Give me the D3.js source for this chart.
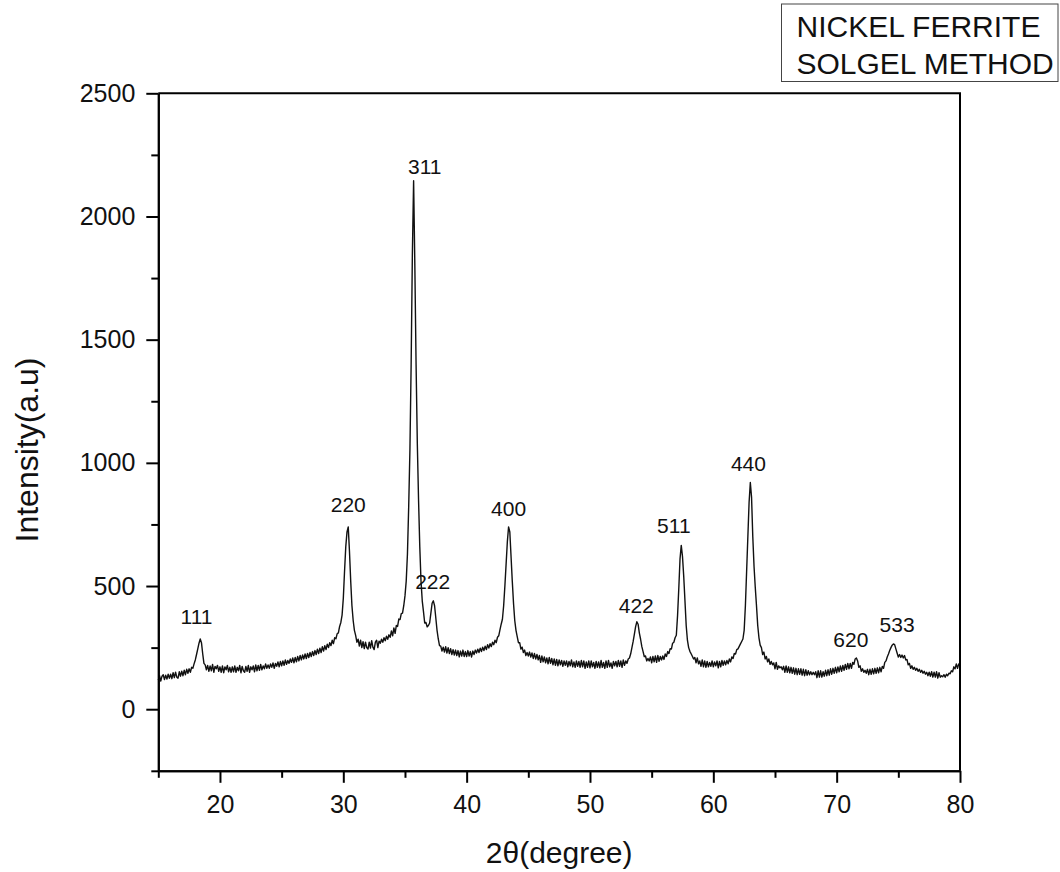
<!DOCTYPE html>
<html lang="en">
  <head>
    <meta charset="UTF-8" />
    <title>nickel ferrite xrd</title>
    <script src="https://cdn.jsdelivr.net/npm/d3@7/dist/d3.min.js"></script>
    <style>
      body { margin: 0; background: #fff; }
    </style>
  </head>
  <body>
    <div id="wrapper"></div>
    <script>
      // scan: first angle, step, and counts (one row per degree)
      const angleStart = 15;
      const angleStep = 0.1;
      const counts = [
        118,136,114,134,140,120,138,122,142,126,
        142,124,148,128,150,130,126,152,134,154,
        136,158,140,162,146,164,150,170,166,184,
        200,222,245,268,285,270,225,186,180,160,
        178,154,176,156,182,150,174,164,178,154,
        172,150,176,148,172,160,178,152,170,150,
        172,152,176,150,170,156,178,148,174,156,
        150,174,154,178,150,172,160,176,152,180,
        156,178,158,182,160,176,164,184,166,180,
        166,184,170,188,166,186,174,192,172,194,
        176,196,178,200,182,198,186,204,190,208,
        188,210,192,214,196,218,200,220,204,224,
        206,226,210,230,214,234,218,238,222,244,
        226,248,230,254,236,258,242,264,250,270,
        258,280,266,290,286,306,310,336,352,382,
        450,560,660,720,740,640,520,420,360,320,
        300,272,284,256,280,250,274,246,272,250,
        244,272,248,278,252,242,272,280,250,276,
        268,284,272,290,278,296,284,302,292,318,
        298,330,308,340,336,366,364,388,390,420,
        460,520,630,820,1050,1400,1850,2145,1800,1400,
        1080,850,660,520,440,396,350,352,334,340,
        350,390,430,440,420,370,320,285,258,256,
        236,252,232,254,228,250,226,246,222,242,
        220,240,218,238,212,236,216,240,214,234,
        214,238,216,234,212,236,222,240,228,244,
        230,248,234,252,238,256,242,262,248,266,
        254,272,262,280,270,292,298,322,345,365,
        420,500,590,680,740,720,620,520,430,360,
        320,295,270,270,244,252,230,240,218,230,
        216,232,212,228,206,226,204,222,200,218,
        190,216,192,212,188,208,184,210,186,206,
        180,204,178,202,176,200,180,198,174,196,
        178,196,172,194,176,200,172,192,170,196,
        174,194,170,198,172,196,166,192,170,196,
        168,196,172,190,166,194,170,192,168,198,
        170,190,166,196,170,198,172,188,166,194,
        176,194,172,198,174,196,170,200,178,196,
        186,204,208,225,250,275,305,335,355,345,
        310,285,255,235,214,216,196,206,196,212,
        188,214,192,216,190,218,194,214,200,216,
        202,224,214,234,226,246,244,268,272,290,
        300,380,490,610,665,620,540,440,340,280,
        250,235,225,215,204,210,188,208,184,196,
        174,200,172,196,170,194,172,190,174,196,
        172,192,176,196,168,194,172,198,178,196,
        180,198,184,204,192,212,206,226,224,242,
        245,255,265,275,285,320,420,560,700,840,
        920,860,700,580,495,420,340,290,260,250,
        222,232,204,214,192,204,182,194,180,188,
        164,190,162,176,168,172,160,174,150,176,
        150,172,148,170,146,168,142,166,140,164,
        142,164,138,162,136,160,138,156,140,152,
        140,150,140,152,128,156,130,156,130,152,
        134,158,136,160,138,164,142,166,146,170,
        148,172,152,176,154,178,158,182,162,186,
        164,186,166,190,182,204,208,196,170,176,
        154,164,150,158,146,162,140,162,142,164,
        144,166,146,168,148,170,152,174,166,190,
        196,212,224,238,250,260,265,262,245,228,
        212,222,210,220,208,218,200,202,180,186,
        166,176,162,170,158,166,154,162,150,158,
        146,154,142,150,136,150,134,152,130,150,
        130,152,126,148,130,136,132,140,130,142,
        136,146,144,156,152,172,164,184,166,184,
        175
      ];

      // peak labels (hkl) and where they sit, in data units
      const hklLabels = ["111", "220", "311", "222", "400", "422", "511", "440", "620", "533"];
      const labelAngles = [18.1, 30.4, 36.6, 37.25, 43.4, 53.75, 56.8, 62.85, 71.15, 74.9];
      const labelCounts = [346, 802, 2172, 487, 785, 390, 714, 968, 252, 312];

      const xTicks = [20, 30, 40, 50, 60, 70, 80];
      const xMinorTicks = [15, 25, 35, 45, 55, 65, 75];
      const yTicks = [0, 500, 1000, 1500, 2000, 2500];
      const yMinorTicks = [-250, 250, 750, 1250, 1750, 2250];

      const titleLines = ["NICKEL FERRITE", "SOLGEL METHOD"];

      const dimensions = {
        width: 1060,
        height: 872,
        margin: { left: 158.3, right: 100, top: 93.3, bottom: 101.2 },
      };
      dimensions.boundedWidth =
        dimensions.width - dimensions.margin.left - dimensions.margin.right;
      dimensions.boundedHeight =
        dimensions.height - dimensions.margin.top - dimensions.margin.bottom;

      const font = "'Liberation Sans', Arial, sans-serif";

      const dataset = counts.map((c, i) => ({
        angle: angleStart + i * angleStep,
        count: c,
      }));

      const svg = d3
        .select("#wrapper")
        .append("svg")
        .attr("width", dimensions.width)
        .attr("height", dimensions.height)
        .style("font-family", font);

      const bounds = svg
        .append("g")
        .attr(
          "transform",
          `translate(${dimensions.margin.left}, ${dimensions.margin.top})`
        );

      const xScale = d3
        .scaleLinear()
        .domain([15, 80])
        .range([0, dimensions.boundedWidth]);
      const yScale = d3
        .scaleLinear()
        .domain([-250, 2500])
        .range([dimensions.boundedHeight, 0]);

      // pattern
      const line = d3
        .line()
        .x((d) => xScale(d.angle))
        .y((d) => yScale(d.count));
      bounds
        .append("path")
        .datum(dataset)
        .attr("d", line)
        .attr("fill", "none")
        .attr("stroke", "#111")
        .attr("stroke-width", 1.4)
        .attr("stroke-linejoin", "round");

      // axes
      const styleAxis = (g) => {
        g.selectAll("path, line").attr("stroke", "#000").attr("stroke-width", 2);
        g.selectAll("text")
          .attr("fill", "#111")
          .style("font-size", "25px")
          .style("font-family", font);
      };

      bounds
        .append("g")
        .attr("transform", `translate(0, ${dimensions.boundedHeight})`)
        .call(
          d3.axisBottom(xScale).tickValues(xTicks).tickSize(12).tickSizeOuter(0).tickPadding(12)
        )
        .call(styleAxis);
      bounds
        .append("g")
        .attr("transform", `translate(0, ${dimensions.boundedHeight})`)
        .call(
          d3.axisBottom(xScale).tickValues(xMinorTicks).tickSize(7).tickSizeOuter(0).tickFormat("")
        )
        .call(styleAxis);

      bounds
        .append("g")
        .call(
          d3.axisLeft(yScale).tickValues(yTicks).tickSize(12).tickSizeOuter(0)
            .tickPadding(11).tickFormat(d3.format("d"))
        )
        .call(styleAxis);
      bounds
        .append("g")
        .call(
          d3.axisLeft(yScale).tickValues(yMinorTicks).tickSize(7).tickSizeOuter(0).tickFormat("")
        )
        .call(styleAxis);

      // top and right frame
      bounds
        .append("path")
        .attr(
          "d",
          `M0,0H${dimensions.boundedWidth}V${dimensions.boundedHeight}`
        )
        .attr("fill", "none")
        .attr("stroke", "#000")
        .attr("stroke-width", 2);

      // peak labels
      bounds
        .selectAll(".hkl")
        .data(hklLabels)
        .join("text")
        .attr("class", "hkl")
        .attr("x", (d, i) => xScale(labelAngles[i]))
        .attr("y", (d, i) => yScale(labelCounts[i]))
        .attr("text-anchor", "middle")
        .attr("fill", "#111")
        .style("font-size", "21px")
        .text((d) => d);

      // axis titles
      svg
        .append("text")
        .attr("x", dimensions.margin.left + dimensions.boundedWidth / 2)
        .attr("y", 863)
        .attr("text-anchor", "middle")
        .attr("fill", "#111")
        .style("font-size", "30px")
        .text("2θ(degree)");
      svg
        .append("text")
        .attr("transform", "translate(38, 450) rotate(-90)")
        .attr("text-anchor", "middle")
        .attr("fill", "#111")
        .style("font-size", "32px")
        .text("Intensity(a.u)");

      // title box
      const box = svg.append("g").attr("transform", "translate(781.5, 4)");
      box
        .append("rect")
        .attr("width", 276.5)
        .attr("height", 77.5)
        .attr("fill", "#fff")
        .attr("stroke", "#444")
        .attr("stroke-width", 1);
      box
        .selectAll("text")
        .data(titleLines)
        .join("text")
        .attr("x", 15)
        .attr("y", (d, i) => 32.7 + i * 37.3)
        .attr("fill", "#111")
        .style("font-size", "30px")
        .text((d) => d);
    </script>
  </body>
</html>
